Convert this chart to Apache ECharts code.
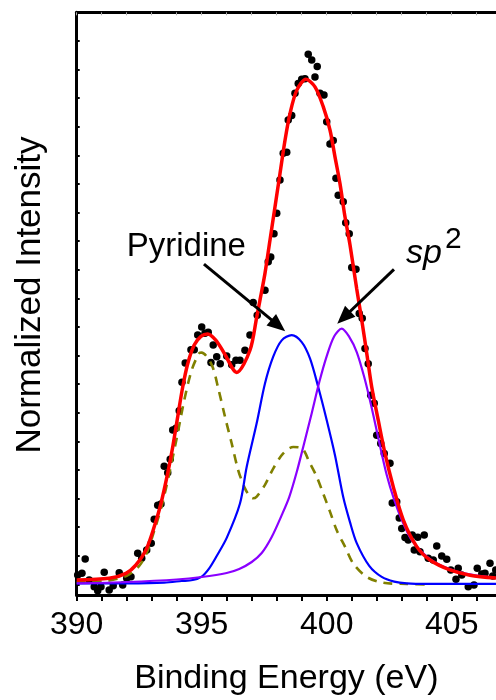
<!DOCTYPE html>
<html>
<head>
<meta charset="utf-8">
<script src="https://cdn.jsdelivr.net/npm/echarts@6/dist/echarts.min.js"></script>
<style>
  html, body { margin: 0; padding: 0; background: #fff; }
  #chart { width: 496px; height: 700px; }
</style>
</head>
<body>
<div id="chart"></div>
<script>
// N 1s spectrum: measured points and fitted components (binding energy in eV, normalized intensity)
const measured = [
  [390.04, 3.43], [390.21, 3.72], [390.34, 6.17], [390.5, 2.57], [390.7, 1.42], [390.84, 0.74],
  [390.97, 1.42], [391.1, 3.89], [391.3, 0.86], [391.46, 1.6], [391.7, 3.83], [391.84, 1.72],
  [392.0, 2.86], [392.17, 3.14], [392.44, 7.15], [392.6, 6.3], [392.8, 7.72], [392.98, 8.87],
  [393.1, 13.0], [393.24, 15.4], [393.37, 15.6], [393.5, 22.1], [393.64, 21.0], [393.74, 23.3],
  [393.84, 28.3], [393.97, 28.6], [394.1, 31.6], [394.21, 36.5], [394.34, 39.8], [394.57, 42.1],
  [394.7, 42.1], [394.84, 44.6], [395.0, 46.0], [395.13, 44.9], [395.26, 45.1], [395.37, 39.9],
  [395.46, 42.9], [395.6, 40.9], [395.74, 39.7], [396.0, 41.0], [396.2, 39.5], [396.37, 40.3],
  [396.53, 40.3], [396.73, 42.0], [396.93, 44.6], [397.06, 50.2], [397.22, 48.0], [397.53, 52.3],
  [397.66, 57.2], [397.76, 58.0], [397.89, 62.0], [398.0, 65.5], [398.13, 71.2], [398.26, 75.8],
  [398.4, 76.0], [398.46, 81.5], [398.6, 82.3], [398.73, 86.1], [398.86, 87.8], [399.0, 88.5],
  [399.13, 88.6], [399.26, 92.8], [399.4, 91.8], [399.53, 88.9], [399.62, 90.7], [399.73, 86.1],
  [399.89, 85.8], [400.0, 81.2], [400.13, 77.4], [400.26, 78.0], [400.37, 71.5], [400.46, 68.6],
  [400.66, 67.5], [400.76, 63.9], [400.9, 62.0], [401.0, 56.2], [401.17, 55.9], [401.3, 48.3],
  [401.42, 47.5], [401.53, 42.3], [401.66, 39.7], [401.76, 34.3], [401.9, 32.9], [402.0, 27.4],
  [402.16, 26.0], [402.3, 24.3], [402.53, 22.6], [402.62, 15.8], [402.8, 16.0], [402.9, 13.2],
  [403.0, 11.4], [403.13, 9.86], [403.26, 9.43], [403.42, 10.3], [403.5, 7.72], [403.64, 9.9],
  [403.73, 7.43], [403.9, 10.3], [404.06, 6.3], [404.26, 6.0], [404.4, 8.4], [404.6, 6.69],
  [404.8, 6.12], [404.96, 4.29], [405.17, 2.69], [405.26, 4.58], [405.4, 3.43], [405.66, 1.42],
  [405.89, 1.72], [406.02, 4.58], [406.2, 3.6], [406.33, 3.72], [406.53, 5.44], [406.64, 3.26],
  [406.76, 4.29]
];

const envelope = [
  [390.0, 2.57], [391.3, 2.86], [391.97, 3.72], [392.37, 5.15], [392.77, 7.72], [393.1, 11.7],
  [393.37, 15.7], [393.64, 20.9], [393.84, 25.4], [394.04, 30.6], [394.24, 35.7], [394.44, 39.7],
  [394.7, 42.9], [394.97, 44.4], [395.24, 44.8], [395.57, 43.7], [395.9, 41.5], [396.4, 38.2],
  [396.93, 42.0], [397.2, 47.7], [397.33, 50.6], [397.53, 55.2], [397.73, 60.9], [397.93, 66.6],
  [398.13, 72.3], [398.33, 78.0], [398.53, 82.6], [398.8, 86.6], [399.17, 88.5], [399.53, 87.2],
  [399.86, 83.8], [400.13, 79.8], [400.33, 75.2], [400.53, 70.6], [400.73, 64.9], [400.93, 60.1],
  [401.2, 52.5], [401.4, 47.2], [401.6, 41.5], [401.8, 35.7], [402.06, 30.0], [402.33, 24.3],
  [402.66, 18.6], [403.06, 12.9], [403.6, 8.3], [404.13, 6.0], [404.93, 4.3], [405.73, 3.4],
  [406.77, 2.9]
];

const otherN = [
  [390.0, 2.2], [391.0, 2.3], [392.0, 3.3], [392.5, 5.0], [392.8, 7.2], [393.1, 11.0],
  [393.4, 15.3], [393.7, 20.8], [394.0, 26.9], [394.3, 33.4], [394.6, 38.6], [394.9, 41.5],
  [395.0, 41.6], [395.4, 39.5], [395.66, 35.5], [395.93, 30.6], [396.2, 26.0], [396.46, 21.4],
  [396.73, 18.3], [396.93, 16.9], [397.05, 16.6], [397.2, 16.9], [397.53, 18.9], [397.86, 21.7],
  [398.26, 24.3], [398.66, 25.4], [399.0, 25.2], [399.33, 22.6], [399.6, 20.3], [399.86, 17.4],
  [400.13, 14.3], [400.4, 11.1], [400.73, 8.3], [401.06, 5.4], [401.6, 3.1], [402.26, 2.1],
  [403.2, 1.9], [404.13, 1.8]
];

const pyridinic = [
  [390.0, 1.97], [392.0, 2.0], [393.5, 2.14], [394.2, 2.4], [394.64, 2.57], [395.0, 3.17],
  [395.3, 4.58], [395.6, 6.7], [396.0, 9.8], [396.53, 15.7], [396.8, 22.0], [397.2, 29.5],
  [397.53, 36.3], [397.86, 40.9], [398.2, 43.7], [398.6, 44.6], [399.0, 43.4], [399.33, 40.6],
  [399.66, 35.7], [400.0, 30.0], [400.33, 24.0], [400.66, 16.8], [400.93, 12.5], [401.2, 8.9],
  [401.7, 5.0], [402.2, 3.1], [402.7, 2.3], [403.2, 2.0], [404.0, 1.9], [406.77, 1.9]
];

const sp2N = [
  [390.0, 1.99], [392.0, 2.23], [394.0, 2.66], [395.0, 3.09], [396.0, 3.77], [396.5, 4.46],
  [397.0, 5.66], [397.4, 7.2], [397.8, 9.95], [398.2, 13.7], [398.5, 16.8], [398.8, 21.1],
  [399.1, 26.1], [399.4, 31.2], [399.7, 36.5], [400.0, 41.0], [400.3, 44.4], [400.6, 45.7],
  [400.9, 44.3], [401.2, 41.7], [401.5, 37.4], [401.8, 32.1], [402.1, 26.2], [402.4, 20.6],
  [402.7, 16.3], [403.0, 12.9], [403.4, 9.4], [404.0, 6.6], [404.7, 4.8], [405.5, 3.7],
  [406.77, 2.9]
];

// Annotation arrows: [start, end] in (eV, intensity)
const pyridineArrow = [[395.09, 56.77], [398.06, 46.26]];
const sp2Arrow = [[402.69, 55.87], [400.68, 47.63]];

const xRange = [390, 406.77];
const yRange = [0, 100];

const FONT = '"Liberation Sans", Arial, sans-serif';

const chart = echarts.init(document.getElementById('chart'), null, { renderer: 'canvas' });

function curve(name, data, color, width, dashed, z) {
  return {
    name, type: 'line', data, xAxisIndex: 0, yAxisIndex: 0,
    showSymbol: false, smooth: 0.3, z, silent: true,
    lineStyle: { color, width, type: dashed ? [9, 7] : 'solid' }
  };
}

const fifth = v => {
  const r = Math.round(v);
  return Math.abs(v - r) < 1e-6 && r % 5 === 0 ? String(r) : '';
};

chart.setOption({
  animation: false,
  backgroundColor: '#fff',
  grid: { left: 76.7, top: 12.3, bottom: 105, right: 0, containLabel: false, outerBoundsMode: 'none' },
  xAxis: [
    {
      type: 'value', position: 'bottom', min: xRange[0], max: xRange[1], interval: 1,
      name: 'Binding Energy (eV)', nameLocation: 'middle', nameGap: 67,
      nameTextStyle: { fontFamily: FONT, fontSize: 34, color: '#000' },
      axisLine: { show: true, lineStyle: { color: '#000', width: 3 } },
      axisTick: { show: true, inside: false, length: 6, lineStyle: { color: '#000', width: 2 } },
      axisLabel: {
        show: true, margin: 14, fontFamily: FONT, fontSize: 32, color: '#000',
        formatter: fifth, showMinLabel: true, showMaxLabel: false, hideOverlap: false
      },
      splitLine: { show: false }
    },
    {
      type: 'value', position: 'top', min: xRange[0], max: xRange[1], interval: 1,
      axisLine: { show: true, lineStyle: { color: '#000', width: 3 } },
      axisTick: { show: true, inside: true, length: 3, lineStyle: { color: '#aaa', width: 1 } },
      axisLabel: { show: false },
      splitLine: { show: false }
    }
  ],
  yAxis: [
    {
      type: 'value', position: 'left', min: yRange[0], max: yRange[1],
      axisLine: { show: true, lineStyle: { color: '#000', width: 3 } },
      axisTick: { show: false }, axisLabel: { show: false }, splitLine: { show: false }
    },
    {
      // tick ruler counted down from the top frame
      type: 'value', position: 'left', inverse: true, min: 0, max: 20.37, interval: 1,
      axisLine: { show: false },
      axisTick: { show: true, inside: true, length: 3, lineStyle: { color: '#000', width: 2 } },
      axisLabel: { show: false }, splitLine: { show: false }
    }
  ],
  graphic: [
    {
      type: 'text', x: 30, y: 295, rotation: Math.PI / 2,
      style: { text: 'Normalized Intensity', fontFamily: FONT, fontSize: 35, fill: '#000',
               align: 'center', verticalAlign: 'middle' }
    },
    {
      type: 'text', x: 126.7, y: 246.9,
      style: { text: 'Pyridine', fontFamily: FONT, fontSize: 33, fill: '#000',
               align: 'left', verticalAlign: 'middle' }
    },
    {
      type: 'text', x: 406, y: 253.2,
      style: { text: 'sp', fontFamily: FONT, fontSize: 34, fontStyle: 'italic', fill: '#000',
               align: 'left', verticalAlign: 'middle' }
    },
    {
      type: 'text', x: 445, y: 239.6,
      style: { text: '2', fontFamily: FONT, fontSize: 30, fill: '#000',
               align: 'left', verticalAlign: 'middle' }
    }
  ],
  series: [
    {
      name: 'Measured', type: 'scatter', data: measured, symbol: 'circle', symbolSize: 7.5,
      itemStyle: { color: '#000', opacity: 1 }, z: 2, silent: true,
      markLine: {
        silent: true, animation: false,
        symbol: ['none', 'triangle'], symbolSize: [15, 18],
        label: { show: false },
        lineStyle: { color: '#000', width: 3, type: 'solid', opacity: 1 },
        emphasis: { disabled: true },
        data: [
          [{ coord: pyridineArrow[0] }, { coord: pyridineArrow[1] }],
          [{ coord: sp2Arrow[0] }, { coord: sp2Arrow[1] }]
        ]
      }
    },
    curve('Other N', otherN, '#808000', 2.6, true, 3),
    curve('Pyridinic N', pyridinic, '#0000ff', 2.2, false, 3),
    curve('sp2 N', sp2N, '#8a00ff', 2.2, false, 3),
    curve('Envelope', envelope, '#ff0000', 3.5, false, 4)
  ]
});
</script>
</body>
</html>
